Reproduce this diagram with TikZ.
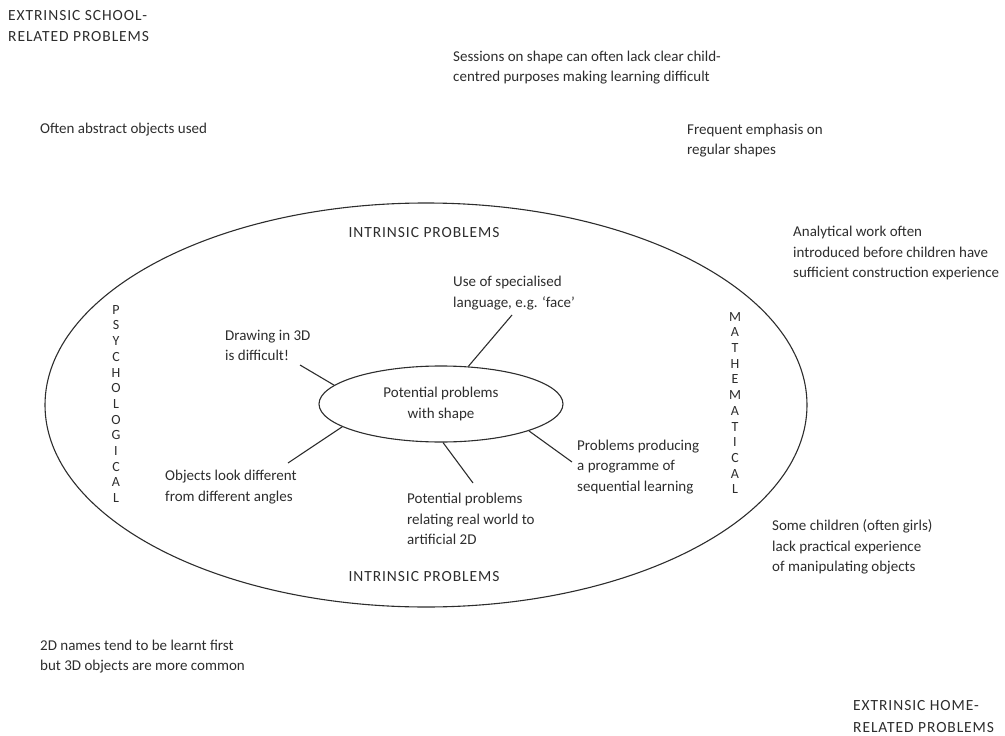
\documentclass[tikz,border=0pt]{standalone}
\usepackage{fontspec}
\setmainfont{Carlito}
\newfontfamily\capsfont[LetterSpace=6]{Carlito}
\usetikzlibrary{shapes.geometric}
\definecolor{ink}{RGB}{45,45,45}
\tikzset{
  txt/.style={font=\fontsize{15}{20.5}\selectfont, align=left, inner sep=0pt, text=ink, anchor=west},
  capstxt/.style={txt, font=\capsfont\fontsize{15.5}{21.5}\selectfont},
  vert/.style={font=\fontsize{14}{15.7}\selectfont, align=center, inner sep=0pt, text=ink},
  bubble/.style={ellipse, draw=ink, line width=1.1pt, inner sep=0pt},
  spoke/.style={draw=ink, line width=1.1pt}
}
\begin{document}
\begin{tikzpicture}[x=1pt,y=-1pt]
\useasboundingbox (0,0) rectangle (1005,736);
% outer and inner ellipses
\node[bubble, minimum width=762pt, minimum height=404pt] (outer) at (426,405) {};
\node[bubble, minimum width=244pt, minimum height=76pt, txt, align=center, anchor=center] (inner) at (441,404) {Potential problems\\with shape};
% outside texts
\node[capstxt] (ext1) at (8,26) {EXTRINSIC SCHOOL-\\RELATED PROBLEMS};
\node[txt] (abs) at (40,130) {Often abstract objects used};
\node[txt] (sess) at (453,67.5) {Sessions on shape can often lack clear child-\\centred purposes making learning difficult};
\node[txt] (freq) at (687,140.5) {Frequent emphasis on\\regular shapes};
\node[txt] (anal) at (793,253) {Analytical work often\\introduced before children have\\sufficient construction experience};
\node[txt] (some) at (772,547) {Some children (often girls)\\lack practical experience\\of manipulating objects};
\node[txt] (twod) at (40,656.5) {2D names tend to be learnt first\\but 3D objects are more common};
\node[capstxt] (ext2) at (853,716.5) {EXTRINSIC HOME-\\RELATED PROBLEMS};
% inside texts
\node[capstxt, anchor=center] (intr1) at (424,233) {INTRINSIC PROBLEMS};
\node[capstxt, anchor=center] (intr2) at (424,577) {INTRINSIC PROBLEMS};
\node[vert] (psych) at (116,404) {P\\S\\Y\\C\\H\\O\\L\\O\\G\\I\\C\\A\\L};
\node[vert] (math) at (735,403) {M\\A\\T\\H\\E\\M\\A\\T\\I\\C\\A\\L};
\node[txt] (use) at (453,293) {Use of specialised\\language, e.g. `face'};
\node[txt] (drw) at (225,345.5) {Drawing in 3D\\is difficult!};
\node[txt] (obj) at (165,487) {Objects look different\\from different angles};
\node[txt] (pot) at (407,519) {Potential problems\\relating real world to\\artificial 2D};
\node[txt] (prob) at (577,467) {Problems producing\\a programme of\\sequential learning};
% spoke ends
\coordinate (e1) at (512,315);
\coordinate (e2) at (300,365);
\coordinate (e3) at (288,463);
\coordinate (e4) at (473,483);
\coordinate (e5) at (572,462);
\draw[spoke] (inner.54) -- (e1);
\draw[spoke] (inner.170) -- (e2);
\draw[spoke] (inner.193.5) -- (e3);
\draw[spoke] (inner.273) -- (e4);
\draw[spoke] (inner.343.4) -- (e5);
\end{tikzpicture}
\end{document}
